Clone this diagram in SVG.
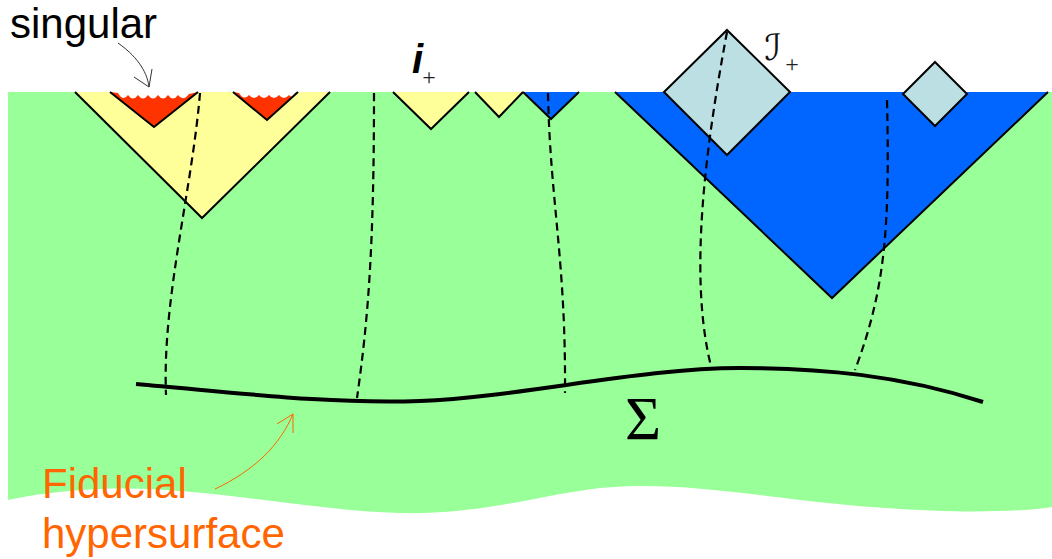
<svg xmlns="http://www.w3.org/2000/svg" width="1052" height="559" viewBox="0 0 1052 559">
  <defs>
    <style>
      .edge { fill: none; stroke: #000; stroke-width: 2; stroke-linejoin: miter; }
      .yellow { fill: #FFFF99; }
      .red { fill: #FF3300; }
      .blue { fill: #0066FF; }
      .lightblue { fill: #BBDFE3; stroke: #000; stroke-width: 2; }
      .wl { fill: none; stroke: #000; stroke-width: 2.2; stroke-dasharray: 8 5; }
      .sans { font-family: "Liberation Sans", Arial, sans-serif; }
      .serif { font-family: "Liberation Serif", "Times New Roman", serif; }
    </style>
  </defs>
  <rect width="1052" height="559" fill="#fff"/>

  <g id="spacetime">
    <path fill="#99FF99" d="M8,92 H1052 V507 C1000,515 900,512 800,500 C720,490 660,482 600,488 C540,495 480,515 400,513 C300,510 200,485 100,489 C60,491 30,495 8,500 Z"/>
  </g>

  <g id="black-hole-1">
    <polygon class="yellow" points="75,92 202,218 330,92"/>
    <polyline class="edge" points="75,92 202,218 330,92"/>
    <polygon fill="#fff" points="110,92 154,127 198,92"/>
    <path class="red" d="M110,92 L118,93 Q123,102 128,95 Q133,102 138,95 Q143,102 148,95 Q153,102 158,95 Q163,102 168,95 Q173,102 178,95 Q183,102 189,94 L198,92 L154,127 Z"/>
    <polyline class="edge" points="110,92 154,127 198,92"/>
    <polygon fill="#fff" points="233,92 267,120 298,92"/>
    <path class="red" d="M233,92 L239,93 Q244,101 249,95 Q254,101 259,95 Q264,101 269,95 Q274,101 279,95 Q284,101 289,95 Q292,99 295,93 L298,92 L267,120 Z"/>
    <polyline class="edge" points="233,92 267,120 298,92"/>
  </g>

  <g id="cone-i1">
    <polygon class="yellow" points="393,92 431,129 469,92"/>
    <polyline class="edge" points="393,92 431,129 469,92"/>
  </g>
  <g id="cone-i2">
    <polygon class="yellow" points="475,92 499,117 523,92"/>
    <polyline class="edge" points="475,92 499,117 523,92"/>
  </g>
  <g id="cone-i3">
    <polygon class="blue" points="523,92 551,119 579,92"/>
    <polyline class="edge" points="523,92 551,119 579,92"/>
  </g>

  <g id="cone-big">
    <polygon class="blue" points="615,92 832,298 1048,92"/>
    <polyline class="edge" points="615,92 832,298 1048,92"/>
  </g>
  <g id="scri-1">
    <polygon class="lightblue" points="727,30 790,92 727,155 664,92"/>
  </g>
  <g id="scri-2">
    <polygon class="lightblue" points="935,62 967,94 935,126 903,94"/>
  </g>

  <g id="connectors">
    <path class="wl" d="M200,93 C192,190 162,300 166,395"/>
    <path class="wl" d="M374,93 C374,250 368,320 357,398"/>
    <path class="wl" d="M548,93 C550,200 566,260 565,393"/>
    <path class="wl" d="M727,32 C705,150 688,280 712,370"/>
    <path class="wl" d="M887,100 C890,230 885,290 855,370"/>
    <path fill="none" stroke="#333" stroke-width="1" d="M118,43 C135,55 147,70 149,87 M134,77 L149,87 L152,69"/>
    <path fill="none" stroke="#FF6600" stroke-width="1" d="M215,489 C255,470 280,445 293,414 M277,424 L293,414 L293,433"/>
  </g>

  <g id="sigma-surface">
    <path fill="none" stroke="#000" stroke-width="4" d="M136,384 C250,394 330,404 420,401 C520,397 640,368 740,368 C820,368 900,375 983,402"/>
    <text class="serif" x="625" y="439" font-size="62" fill="#000">Σ</text>
  </g>

  <g id="labels">
    <text class="sans" x="10" y="38" font-size="42" fill="#000">singular</text>
    <text class="sans" x="412" y="73" font-size="40" font-weight="bold" font-style="italic" fill="#000">i</text>
    <text class="serif" x="429" y="85" font-size="24" text-anchor="middle" fill="#222">+</text>
    <text x="773" y="60" font-size="36" text-anchor="middle" fill="#111" font-family="'DejaVu Sans', 'DejaVu Serif', sans-serif" font-style="italic">ℐ</text>
    <text class="serif" x="792" y="72" font-size="24" text-anchor="middle" fill="#222">+</text>
    <text class="sans" x="42" y="498" font-size="42" fill="#FF6600">Fiducial</text>
    <text class="sans" x="42" y="548" font-size="42" fill="#FF6600">hypersurface</text>
  </g>
</svg>
